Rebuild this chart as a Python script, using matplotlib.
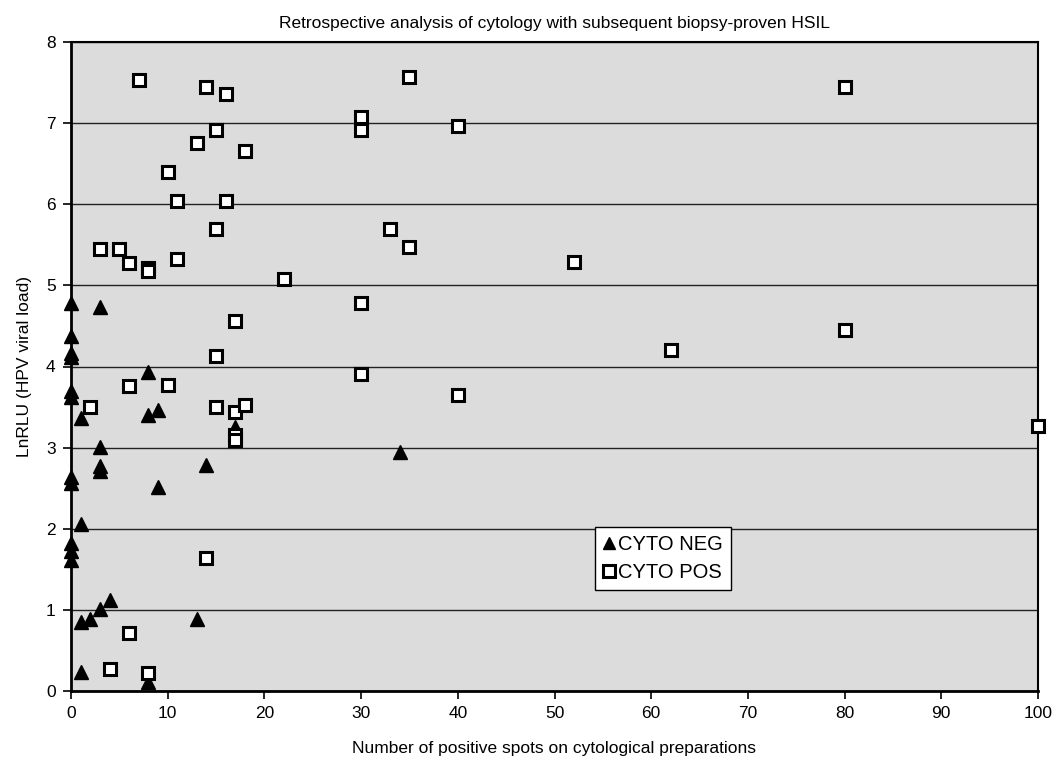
import matplotlib
matplotlib.use("Agg")
import matplotlib.pyplot as plt

plt.rcParams['font.family'] = ['Liberation Sans', 'DejaVu Sans']

neg_x = [0, 0, 0, 0, 0, 0, 0, 0, 0, 0, 0, 3, 1, 8, 8, 9, 3, 3, 3, 9, 14, 17, 34, 1, 1, 2, 3, 4, 13, 1, 8]
neg_y = [4.78, 4.38, 4.17, 4.12, 3.70, 3.63, 2.64, 2.56, 1.83, 1.73, 1.61, 4.73, 3.37, 3.93, 3.40, 3.46,
         3.01, 2.77, 2.71, 2.51, 2.78, 3.26, 2.94, 2.06, 0.85, 0.89, 1.01, 1.12, 0.89, 0.23, 0.11]

pos_x = [7, 14, 16, 15, 13, 18, 10, 11, 16, 15, 3, 5, 6, 8, 8, 11, 22, 17, 15, 30, 30, 10, 6, 2, 15, 17,
         18, 17, 17, 14, 6, 4, 8, 35, 30, 30, 40, 33, 35, 52, 62, 40, 80, 80, 100]
pos_y = [7.53, 7.44, 7.36, 6.92, 6.76, 6.66, 6.40, 6.04, 6.04, 5.69, 5.45, 5.45, 5.28, 5.22, 5.18, 5.33,
         5.08, 4.56, 4.13, 4.78, 3.91, 3.77, 3.76, 3.50, 3.50, 3.44, 3.53, 3.15, 3.10, 1.64, 0.71, 0.27,
         0.22, 7.57, 7.07, 6.92, 6.96, 5.69, 5.47, 5.29, 4.20, 3.65, 7.45, 4.45, 3.27]

x_ticks = list(range(0, 101, 10))
y_ticks = list(range(0, 9))

fig = plt.figure(figsize=(10.61, 7.66), dpi=100)
ax = fig.add_axes([71 / 1061, 1 - 691 / 766, 967 / 1061, 649 / 766])
ax.set_facecolor('#dcdcdc')
ax.set_xlim(0, 100)
ax.set_ylim(0, 8)
ax.set_xticks(x_ticks)
ax.set_yticks(y_ticks)
ax.yaxis.grid(True, color='#222222', linewidth=1.0)
ax.set_axisbelow(True)

for s in ['left', 'bottom']:
    ax.spines[s].set_linewidth(2.0)
for s in ['top', 'right']:
    ax.spines[s].set_linewidth(1.5)

ax.tick_params(axis='both', direction='out', length=6, width=1.2, labelsize=12.5, pad=5)

ax.plot(neg_x, neg_y, linestyle='none', marker='^', markersize=10.5, color='black',
        markeredgecolor='black', clip_on=False, zorder=3, label='CYTO NEG')
ax.plot(pos_x, pos_y, linestyle='none', marker='s', markersize=9, markerfacecolor='white',
        markeredgecolor='black', markeredgewidth=2.2, clip_on=False, zorder=4, label='CYTO POS')

ax.set_title('Retrospective analysis of cytology with subsequent biopsy-proven HSIL', fontsize=12.5, pad=10)
ax.set_xlabel('Number of positive spots on cytological preparations', fontsize=12.5, labelpad=14)
ax.set_ylabel('LnRLU (HPV viral load)', fontsize=12.5, labelpad=10)

leg = ax.legend(loc='upper left', bbox_to_anchor=(0.542, 0.253), frameon=True, fancybox=False,
                edgecolor='black', fontsize=14.5, handlelength=0.6, handletextpad=0.15,
                borderpad=0.4, labelspacing=0.45, borderaxespad=0)
leg.get_frame().set_linewidth(1.0)
leg.get_frame().set_facecolor('white')
leg.get_frame().set_alpha(1)
for h in leg.legend_handles:
    h.set_markersize(9)

fig.savefig('out.png', dpi=100, facecolor='white')
